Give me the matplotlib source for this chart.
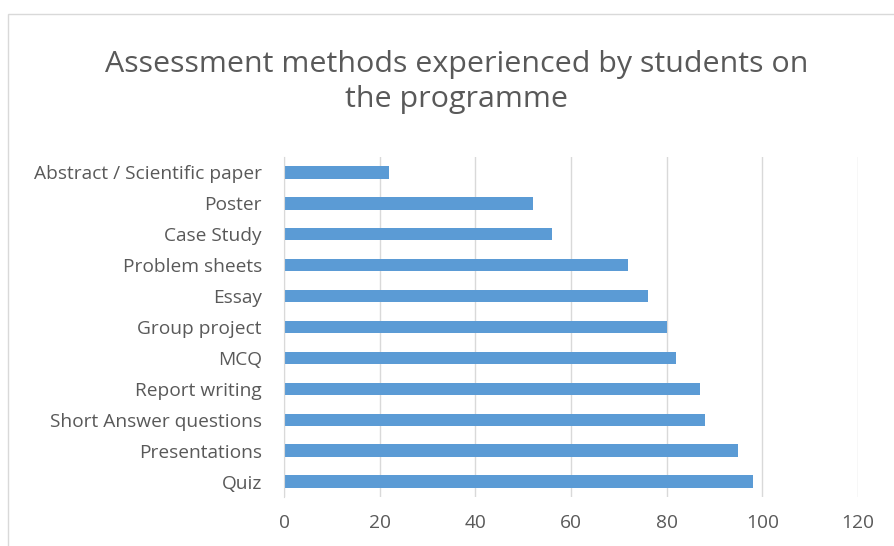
import matplotlib.pyplot as plt
from matplotlib.patches import Rectangle

categories = ["Abstract / Scientific paper", "Poster", "Case Study", "Problem sheets",
              "Essay", "Group project", "MCQ", "Report writing",
              "Short Answer questions", "Presentations", "Quiz"]
values = [22, 52, 56, 72, 76, 80, 82, 87, 88, 95, 98]
xticks = [0, 20, 40, 60, 80, 100, 120]

plt.rcParams['font.family'] = ['Open Sans', 'DejaVu Sans']

fig = plt.figure(figsize=(8.94, 5.46), dpi=100)
# chart border (cropped excel chart frame)
fig.patches.append(Rectangle((8 / 894, -0.1), 1.2, 1 - 14 / 546 + 0.1, transform=fig.transFigure,
                             fill=False, edgecolor='#d9d9d9', linewidth=1))

ax = fig.add_axes([284 / 894, 49 / 546, 574 / 894, 340 / 546])
y = list(range(len(categories)))
ax.barh(y, values, height=0.4, color='#5b9bd5')
ax.set_ylim(len(categories) - 0.5, -0.5)
ax.set_xlim(0, 120)
ax.set_yticks(y)
ax.set_yticklabels(categories)
ax.set_xticks(xticks)
ax.xaxis.grid(True, color='#d9d9d9', linewidth=1)
ax.set_axisbelow(True)
for s in ['top', 'right', 'bottom']:
    ax.spines[s].set_visible(False)
ax.spines['left'].set_color('#d9d9d9')
ax.tick_params(axis='both', length=0, colors='#595959', labelsize=13.8)
ax.tick_params(axis='y', pad=16)
ax.tick_params(axis='x', pad=12)

fig.text(457 / 894, 1 - 82 / 546, "Assessment methods experienced by students on\nthe programme",
         ha='center', va='center', fontsize=21.9, color='#595959', linespacing=1.25)

fig.savefig("out.png", dpi=100)
